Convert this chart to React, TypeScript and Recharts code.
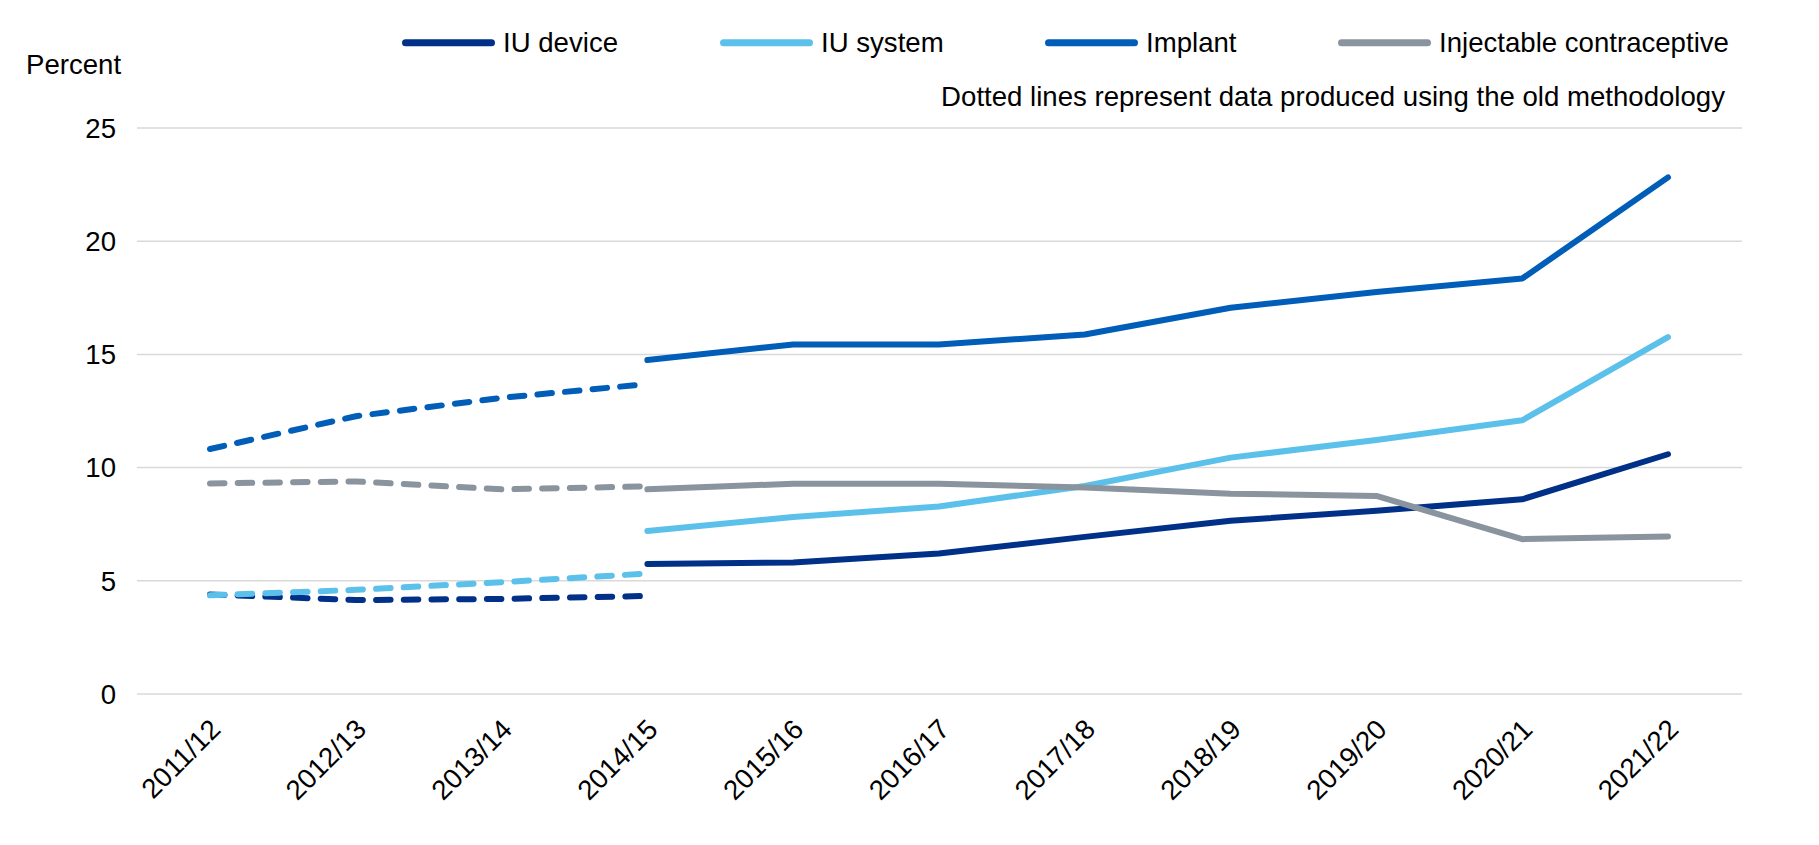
import React from 'react';
import { LineChart, Line, XAxis, YAxis, CartesianGrid } from 'recharts';

const categories = ['2011/12', '2012/13', '2013/14', '2014/15', '2015/16', '2016/17', '2017/18', '2018/19', '2019/20', '2020/21', '2021/22'];

const iuDeviceOld = [4.4, 4.15, 4.2, 4.33, null, null, null, null, null, null, null];
const iuDeviceNew = [null, null, null, 5.74, 5.81, 6.21, 6.94, 7.65, 8.09, 8.6, 10.59];
const iuSystemOld = [4.36, 4.6, 4.94, 5.32, null, null, null, null, null, null, null];
const iuSystemNew = [null, null, null, 7.2, 7.82, 8.28, 9.19, 10.44, 11.22, 12.09, 15.76];
const implantOld = [10.82, 12.27, 13.08, 13.69, null, null, null, null, null, null, null];
const implantNew = [null, null, null, 14.75, 15.44, 15.44, 15.88, 17.06, 17.76, 18.35, 22.82];
const injectableOld = [9.3, 9.39, 9.04, 9.17, null, null, null, null, null, null, null];
const injectableNew = [null, null, null, 9.04, 9.29, 9.29, 9.12, 8.85, 8.75, 6.84, 6.96];

const yTicks = [0, 5, 10, 15, 20, 25];

const seriesNames = ['IU device', 'IU system', 'Implant', 'Injectable contraceptive'];
const seriesColors = ['#003087', '#5CC1EA', '#005EB8', '#89949E'];
const legendLineX = [402, 720, 1045, 1338];

const data = categories.map((c, i) => ({
  cat: c,
  iuDeviceOld: iuDeviceOld[i],
  iuDeviceNew: iuDeviceNew[i],
  iuSystemOld: iuSystemOld[i],
  iuSystemNew: iuSystemNew[i],
  implantOld: implantOld[i],
  implantNew: implantNew[i],
  injectableOld: injectableOld[i],
  injectableNew: injectableNew[i],
}));

const FONT = '"Liberation Sans", Arial, sans-serif';
const FS = 27.6;

const XTick = (props: any) => {
  const { x, payload } = props;
  const ax = x + 5;
  const ay = 724;
  return (
    <text x={ax} y={ay} dy="0.36em" textAnchor="end" transform={`rotate(-45, ${ax}, ${ay})`}
      fill="#000" fontSize={FS} fontFamily={FONT}>{payload.value}</text>
  );
};

const seriesKeys = [
  ['iuDeviceOld', 'iuDeviceNew'],
  ['iuSystemOld', 'iuSystemNew'],
  ['implantOld', 'implantNew'],
  ['injectableOld', 'injectableNew'],
];

export default function App() {
  return (
    <div style={{ position: 'absolute', left: 0, top: 0, width: 1819, height: 845, background: '#fff', fontFamily: FONT }}>
      <LineChart width={1819} height={845} data={data} margin={{ top: 128, right: 77, bottom: 121, left: 0 }}>
        <CartesianGrid horizontal vertical={false} stroke="#d9d9d9" strokeWidth={1.5} />
        <XAxis dataKey="cat" scale="point" padding={{ left: 73, right: 74 }} height={30}
          axisLine={false} tickLine={false} interval={0} tick={<XTick />} />
        <YAxis domain={[0, 25]} ticks={yTicks} width={137} axisLine={false} tickLine={false}
          tickSize={6} tickMargin={15} tick={{ fill: '#000', fontSize: FS, fontFamily: FONT }} />
        {seriesKeys.map((keys, i) => (
          <React.Fragment key={i}>
            <Line dataKey={keys[0]} stroke={seriesColors[i]} strokeWidth={6} strokeDasharray="14.5 13.2"
              strokeLinecap="round" dot={false} activeDot={false} isAnimationActive={false} />
            <Line dataKey={keys[1]} stroke={seriesColors[i]} strokeWidth={6}
              strokeLinecap="round" strokeLinejoin="round" dot={false} activeDot={false} isAnimationActive={false} />
          </React.Fragment>
        ))}
      </LineChart>
      {seriesNames.map((n, i) => (
        <div key={n} style={{ position: 'absolute', left: legendLineX[i], top: 43, transform: 'translateY(-50%)', display: 'flex', alignItems: 'center', whiteSpace: 'nowrap' }}>
          <div style={{ width: 93, height: 7, borderRadius: 4, background: seriesColors[i] }} />
          <span style={{ marginLeft: 8, fontSize: FS, color: '#000', lineHeight: 1 }}>{n}</span>
        </div>
      ))}
      <div style={{ position: 'absolute', left: 26, top: 65, transform: 'translateY(-50%)', fontSize: FS, lineHeight: 1, color: '#000' }}>Percent</div>
      <div style={{ position: 'absolute', right: 1819 - 1725, top: 97, transform: 'translateY(-50%)', fontSize: FS, lineHeight: 1, color: '#000', whiteSpace: 'nowrap' }}>
        Dotted lines represent data produced using the old methodology
      </div>
    </div>
  );
}
